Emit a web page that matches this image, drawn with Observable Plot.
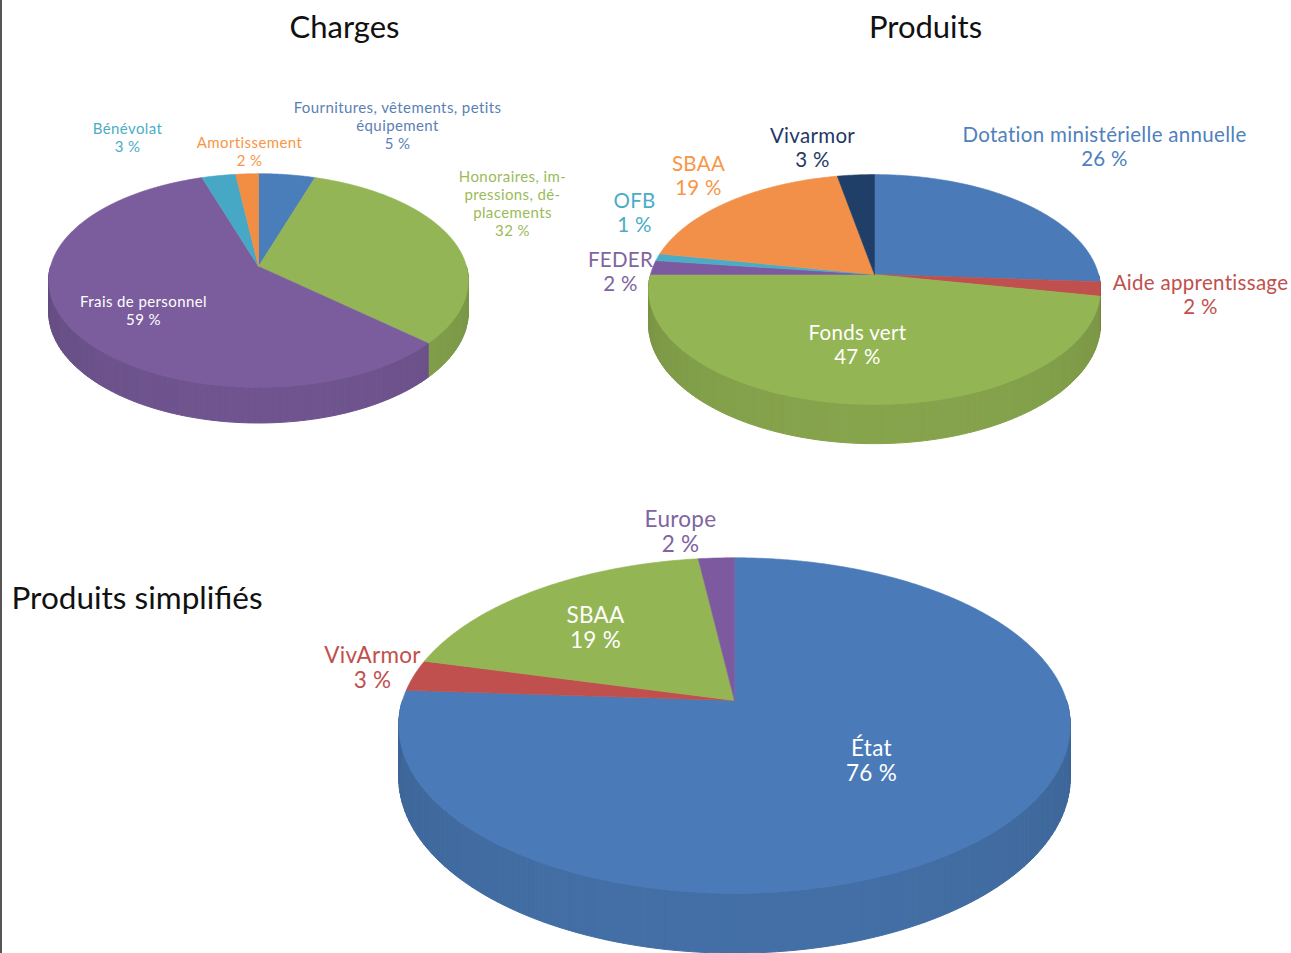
<!DOCTYPE html>
<html><head><meta charset="utf-8">
<script src="https://cdn.jsdelivr.net/npm/d3@7"></script>
<script src="https://cdn.jsdelivr.net/npm/@observablehq/plot@0.6"></script>
<style>
body{margin:0;background:#fff;}
#wrap{position:relative;width:1291px;height:953px;overflow:hidden;background:#fff;}
#wrap svg{position:absolute;left:0;top:0;}
#edge{position:absolute;left:0;top:0;width:2px;height:953px;background:#555;z-index:2;}
.lbl-charges text{letter-spacing:0.4px;}
.lbl-produits text{letter-spacing:0.3px;}
.lbl-simples text{letter-spacing:0.3px;}
</style>
</head><body><div id="wrap"><div id="edge"></div></div>
<script>
// ---------- DATA ----------
const chargesLabels = ["Fournitures, vêtements, petits\néquipement", "Honoraires, im-\npressions, dé-\nplacements", "Frais de personnel", "Bénévolat", "Amortissement"];
const chargesValues = [5, 32, 59, 3, 2];

const produitsLabels = ["Dotation ministérielle annuelle", "Aide apprentissage", "Fonds vert", "FEDER", "OFB", "SBAA", "Vivarmor"];
const produitsValues = [26, 2, 47, 2, 1, 19, 3];

const simplesLabels = ["État", "VivArmor", "SBAA", "Europe"];
const simplesValues = [76, 3, 19, 2];

const titles = ["Charges", "Produits", "Produits simplifiés"];

// ---------- STYLE / LAYOUT ----------
const W = 1291, H = 953;
const layout = {
  charges: {
    cx: 258, cy: 266, R: 208, A: 105, k: 0.131, D: 31,
    colors: ["#4A7EBB", "#93B555", "#7B5D9E", "#46A8C4", "#F28E43"],
    textColors: ["#5B7FB4", "#9BBB59", "#ffffff", "#4BACC6", "#F79646"],
    fontSize: 15, lineHeight: 1.2,
    offsets: [[139, -141], [254, -63], [-115, 44], [-131, -129], [-9, -115]]
  },
  produits: {
    cx: 874, cy: 274, R: 224, A: 113, k: 0.131, D: 34,
    colors: ["#4A7BB8", "#C0504D", "#94B554", "#7D5AA0", "#4BACC6", "#F2904A", "#1F3F69"],
    textColors: ["#4F81BD", "#C0504D", "#ffffff", "#8064A2", "#4BACC6", "#F79646", "#1F3864"],
    fontSize: 20.5, lineHeight: 1.13,
    offsets: [[230, -128], [326, 20], [-17, 70], [-254, -3], [-240, -62], [-176, -99], [-62, -127]]
  },
  simples: {
    cx: 734, cy: 700, R: 332, A: 164, k: 0.149, D: 51,
    colors: ["#4A7BB8", "#C0504D", "#94B554", "#7D5AA0"],
    textColors: ["#ffffff", "#C0504D", "#ffffff", "#8064A2"],
    fontSize: 22.5, lineHeight: 1.1,
    offsets: [[137, 60], [-362, -33], [-139, -73], [-54, -169]]
  }
};

function P(g, u, v, z) {
  const w = 1 - g.k * v;
  return {x: g.cx + g.R * u / w, y: g.cy + (g.A * v + g.D * z) / w};
}

function build(name, values, labels, g) {
  const total = d3.sum(values);
  const top = [], side = [], text = [];
  let acc = 0;
  values.forEach((val, i) => {
    const a0 = acc / total * 2 * Math.PI; acc += val;
    const a1 = acc / total * 2 * Math.PI;
    const col = g.colors[i];
    const id = `${name}-t-${i}`;
    top.push({id, fill: col, ...P(g, 0, 0, 0)});
    const n = Math.max(2, Math.ceil((a1 - a0) / (Math.PI / 360)));
    for (let j = 0; j <= n; j++) {
      const t = a0 + (a1 - a0) * j / n;
      top.push({id, fill: col, ...P(g, Math.sin(t), -Math.cos(t), 0)});
    }
    top.push({id, fill: col, ...P(g, 0, 0, 0)});
    const s0 = Math.max(a0, Math.PI / 2), s1 = Math.min(a1, 1.5 * Math.PI);
    if (s1 > s0) {
      const m = Math.max(1, Math.ceil((s1 - s0) / (Math.PI / 120)));
      for (let j = 0; j < m; j++) {
        const t0 = s0 + (s1 - s0) * j / m, t1 = s0 + (s1 - s0) * (j + 1) / m;
        const tm = (t0 + t1) / 2;
        const dk = 0.28 + 0.32 * (1 - Math.abs(Math.cos(tm)));
        const f = d3.color(col).darker(dk).formatHex();
        const sid = `${name}-s-${i}-${j}`;
        side.push({id: sid, fill: f, ...P(g, Math.sin(t0), -Math.cos(t0), 0)});
        side.push({id: sid, fill: f, ...P(g, Math.sin(t1), -Math.cos(t1), 0)});
        side.push({id: sid, fill: f, ...P(g, Math.sin(t1), -Math.cos(t1), 1)});
        side.push({id: sid, fill: f, ...P(g, Math.sin(t0), -Math.cos(t0), 1)});
        side.push({id: sid, fill: f, ...P(g, Math.sin(t0), -Math.cos(t0), 0)});
      }
    }
    text.push({x: g.cx + g.offsets[i][0], y: g.cy + g.offsets[i][1], text: `${labels[i]}\n${val} %`, fill: g.textColors[i]});
  });
  return {top, side, text};
}

const pc = build("charges", chargesValues, chargesLabels, layout.charges);
const pp = build("produits", produitsValues, produitsLabels, layout.produits);
const ps = build("simples", simplesValues, simplesLabels, layout.simples);

const titleData = [
  {x: 344, y: 28, text: titles[0]},
  {x: 925, y: 28, text: titles[1]}
];
const titleData2 = [{x: 11, y: 598, text: titles[2]}];

function pieMarks(name, p, g) {
  return [
    Plot.line(p.side, {x: "x", y: "y", z: "id", fill: "fill", stroke: "fill", strokeWidth: 1, curve: "linear"}),
    Plot.line(p.top, {x: "x", y: "y", z: "id", fill: "fill", stroke: "fill", strokeWidth: 0.6, curve: "linear"}),
    Plot.text(p.text, {x: "x", y: "y", text: "text", fill: "fill", fontSize: g.fontSize, lineHeight: g.lineHeight, textAnchor: "middle", className: `lbl-${name}`})
  ];
}

const chart = Plot.plot({
  width: W, height: H,
  margin: 0,
  x: {domain: [0, W], range: [0, W], axis: null},
  y: {domain: [0, H], range: [0, H], axis: null},
  color: {type: "identity"},
  style: {fontFamily: "Lato, 'Open Sans', sans-serif", background: "white", overflow: "visible"},
  marks: [
    ...pieMarks("charges", pc, layout.charges),
    ...pieMarks("produits", pp, layout.produits),
    ...pieMarks("simples", ps, layout.simples),
    Plot.text(titleData, {x: "x", y: "y", text: "text", fontSize: 31, fill: "#111", textAnchor: "middle"}),
    Plot.text(titleData2, {x: "x", y: "y", text: "text", fontSize: 31.5, fill: "#111", textAnchor: "start"})
  ]
});
document.getElementById("wrap").insertBefore(chart, document.getElementById("edge"));
</script>
</body></html>
